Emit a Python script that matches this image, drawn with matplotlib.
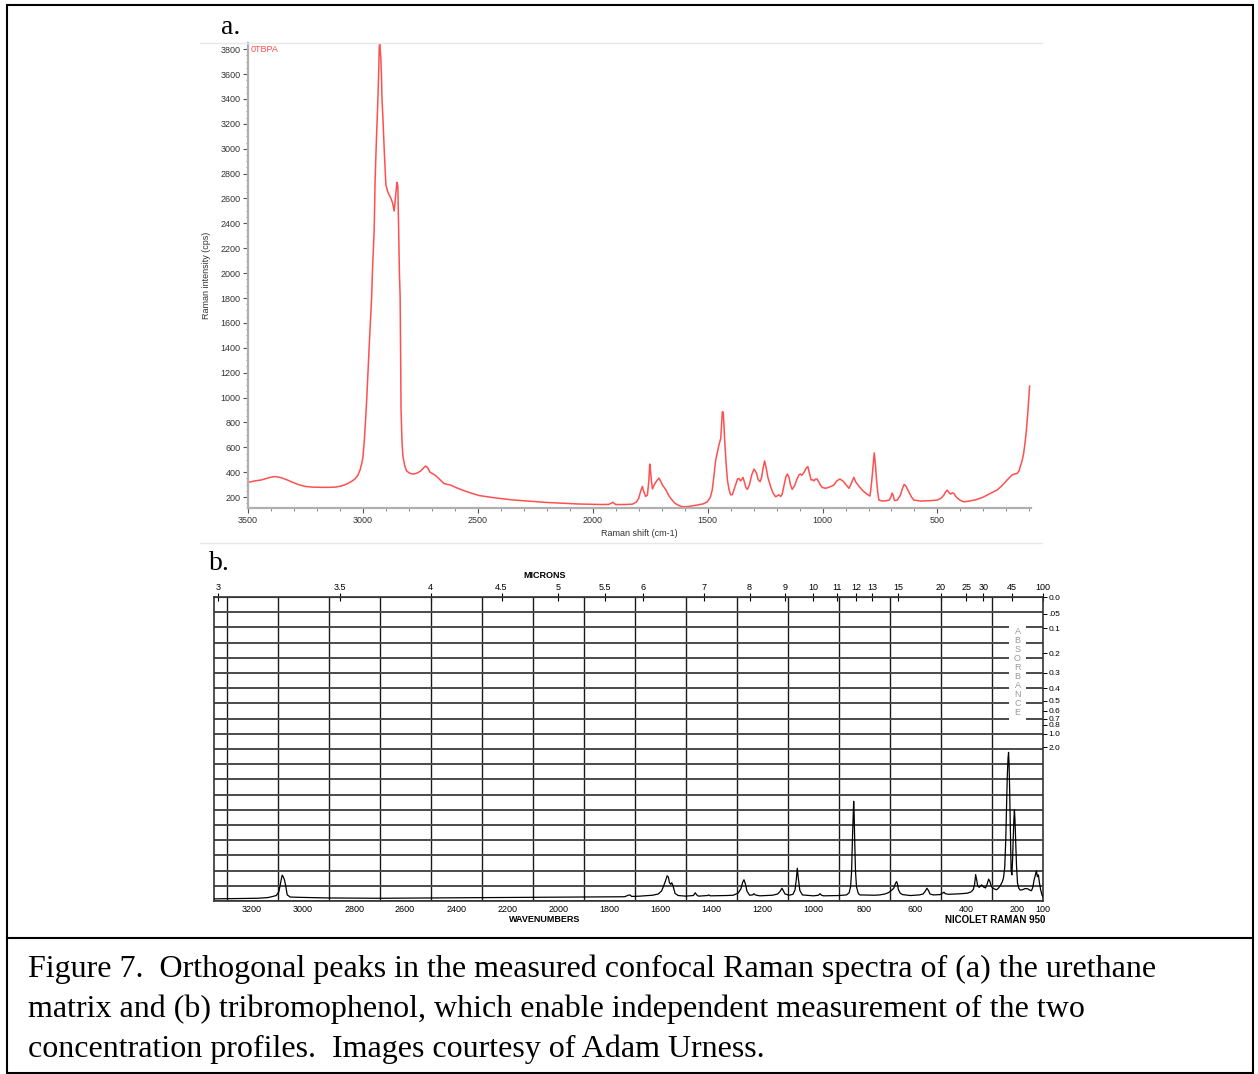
import numpy as np
import matplotlib.pyplot as plt
from matplotlib.lines import Line2D
from matplotlib.patches import Rectangle
from matplotlib.ticker import MultipleLocator

# (a) urethane matrix, Raman intensity (cps) vs Raman shift (cm-1)
top_wn = [3498, 3470, 3440, 3410, 3385, 3360, 3335, 3305, 3277, 3250, 3220, 3180, 3148, 3120,
          3095, 3070, 3050, 3035, 3022, 3012, 3005, 3000, 2994, 2989, 2983, 2978, 2973, 2967,
          2962, 2958, 2951, 2947, 2941, 2936, 2932, 2929, 2927, 2922, 2919, 2917, 2913, 2907,
          2900, 2893, 2886, 2878, 2871, 2864, 2857, 2852, 2848, 2845, 2841, 2838, 2836, 2834,
          2830, 2826, 2818, 2810, 2795, 2780, 2765, 2750, 2738, 2727, 2718, 2708, 2695, 2683,
          2665, 2648, 2630, 2617, 2600, 2567, 2530, 2494, 2450, 2400, 2349, 2300, 2250, 2204,
          2150, 2100, 2060, 2000, 1960, 1930, 1918, 1913, 1907, 1900, 1860, 1827, 1810, 1800,
          1791, 1784, 1778, 1770, 1762, 1756, 1752, 1748, 1745, 1740, 1733, 1722, 1712, 1705,
          1697, 1683, 1670, 1661, 1645, 1632, 1615, 1603, 1580, 1545, 1520, 1501, 1488, 1480,
          1472, 1465, 1451, 1443, 1439, 1436, 1432, 1429, 1426, 1420, 1414, 1407, 1400, 1392,
          1380, 1370, 1364, 1357, 1352, 1346, 1340, 1333, 1327, 1318, 1308, 1298, 1288, 1280,
          1272, 1265, 1258, 1252, 1246, 1238, 1226, 1215, 1204, 1197, 1190, 1183, 1176, 1168,
          1160, 1153, 1146, 1140, 1132, 1122, 1110, 1102, 1096, 1090, 1080, 1072, 1064, 1058,
          1050, 1044, 1038, 1030, 1024, 1016, 1009, 1002, 987, 970, 951, 938, 925, 912, 898,
          885, 875, 864, 855, 842, 830, 820, 808, 794, 790, 786, 780, 775, 770, 765, 760, 755,
          740, 726, 710, 703, 697, 692, 687, 675, 661, 652, 645, 638, 625, 613, 603, 574, 540,
          501, 485, 472, 465, 458, 450, 443, 435, 429, 418, 407, 395, 385, 360, 328, 300, 284,
          260, 241, 220, 197, 185, 176, 165, 154, 145, 140, 132, 125, 118, 113, 108, 103, 99]
top_cps = [318, 330, 338, 355, 365, 358, 342, 318, 298, 285, 280, 278, 278, 280,
           288, 305, 325, 345, 375, 420, 470, 520, 650, 800, 1000, 1200, 1400, 1620,
           1810, 2040, 2340, 2740, 3090, 3330, 3570, 3810, 3850, 3730, 3570, 3400, 3250, 2980,
           2710, 2660, 2630, 2600, 2565, 2500, 2630, 2730, 2700, 2390, 1990, 1810, 1400, 900,
           650, 530, 450, 410, 390, 385, 392, 408, 430, 450, 435, 400, 385, 372,
           340, 310, 300, 296, 280, 256, 232, 212, 200, 188, 177, 170, 163, 157,
           152, 148, 144, 142, 140, 141, 152, 158, 150, 140, 140, 143, 160, 190,
           250, 285, 245, 205, 216, 330, 465, 400, 335, 265, 296, 330, 352, 330,
           298, 262, 215, 190, 155, 138, 125, 122, 125, 136, 145, 162, 200, 256,
           380, 497, 618, 672, 800, 886, 880, 780, 658, 480, 337, 260, 218, 220,
           290, 345, 350, 330, 340, 358, 320, 275, 262, 300, 380, 425, 395, 340,
           323, 360, 440, 490, 440, 360, 283, 230, 202, 210, 218, 205, 220, 290,
           360, 385, 360, 300, 262, 290, 350, 380, 385, 375, 400, 430, 445, 400,
           337, 340, 330, 345, 345, 320, 296, 278, 270, 280, 296, 330, 345, 330, 300,
           270, 310, 358, 320, 288, 262, 243, 225, 208, 260, 330, 450, 555, 460, 337, 240, 176,
           168, 170, 175, 200, 232, 210, 172, 175, 216, 270, 302, 290, 243, 200, 176, 168, 170,
           176, 190, 216, 240, 256, 236, 224, 235, 230, 200, 181, 168, 162, 168, 181, 200, 216,
           238, 256, 290, 337, 360, 377, 385, 390, 410, 444, 490, 551, 650, 739, 850, 980, 1092]

# (b) tribromophenol, Nicolet Raman 950 trace (arbitrary units, full scale = 100)
bot_wn = [3349, 3250, 3180, 3140, 3123, 3105, 3095, 3088, 3082, 3078, 3073, 3068, 3062, 3050,
          3012, 2900, 2700, 2500, 2300, 2100, 1900, 1740, 1725, 1719, 1712, 1680, 1630, 1608,
          1595, 1588, 1580, 1573, 1568, 1564, 1559, 1555, 1550, 1542, 1530, 1500, 1470, 1463,
          1457, 1450, 1415, 1410, 1404, 1340, 1314, 1295, 1284, 1277, 1272, 1266, 1260, 1250,
          1238, 1233, 1228, 1210, 1160, 1140, 1130, 1123, 1118, 1111, 1095, 1080, 1072, 1067,
          1063, 1059, 1053, 1043, 1000, 980, 974, 968, 960, 900, 870, 860, 854, 850, 847, 844,
          842, 840, 838, 835, 831, 824, 818, 760, 740, 720, 707, 695, 685, 678, 674, 670, 667,
          660, 650, 620, 585, 570, 560, 555, 549, 543, 530, 504, 493, 488, 483, 470, 420, 395,
          382, 373, 368, 364, 360, 356, 350, 341, 333, 325, 318, 313, 308, 302, 292, 282, 275,
          268, 260, 255, 250, 246, 243, 240, 237, 235, 233, 231, 229, 227, 225, 222, 219, 217,
          214, 212, 210, 207, 204, 200, 195, 190, 180, 170, 160, 150, 145, 140, 135, 130, 126,
          122, 118, 114, 109, 104, 100]
bot_int = [0.7, 0.8, 0.9, 1.1, 1.4, 1.8, 3.0, 6.0, 8.5, 8.0, 7.0, 5.0, 2.0, 1.3,
           1.2, 1.0, 0.9, 1.0, 1.1, 1.2, 1.3, 1.4, 1.9, 2.0, 1.5, 1.6, 1.9, 2.3,
           3.3, 4.7, 6.5, 8.3, 7.8, 6.0, 5.5, 6.0, 5.0, 2.5, 1.8, 1.6, 1.8, 2.7,
           2.0, 1.6, 1.8, 2.0, 1.7, 1.8, 1.9, 2.6, 4.0, 6.2, 7.0, 5.5, 3.2, 1.9,
           2.0, 2.4, 2.0, 1.7, 1.9, 2.3, 3.2, 4.2, 3.4, 2.3, 1.9, 2.2, 3.6, 7.0,
           10.8, 7.5, 3.5, 2.0, 1.7, 1.9, 2.4, 1.9, 1.7, 1.8, 2.0, 2.7, 4.7, 10, 20, 28,
           32.8, 28, 20, 10, 4.7, 2.5, 2.0, 1.9, 2.0, 2.3, 2.7, 3.4, 4.2, 5.8, 6.4, 5.5, 3.8,
           2.6, 2.1, 1.8, 2.0, 2.3, 3.4, 4.2, 3.5, 2.3, 2.0, 2.1, 2.6, 2.9, 2.4, 2.2, 2.4, 2.6,
           3.0, 3.8, 5.5, 8.7, 7.0, 5.0, 4.5, 5.3, 4.6, 4.3, 5.8, 7.2, 6.4, 4.7, 4.0, 3.7, 4.2,
           5.0, 6.2, 7.5, 11, 20, 30, 41, 47, 48.9, 45, 38, 28, 16, 10, 8.6, 14, 20,
           27, 30, 27, 20, 12, 6, 4.2, 3.6, 3.7, 4.1, 4.0, 3.5, 3.4, 4.5, 6.9, 8.6, 9.9,
           8.0, 8.6, 6.0, 3.6, 2.0, 1.4]

raman_ticks = [3500, 3000, 2500, 2000, 1500, 1000, 500]
wn_ticks = [3200, 3000, 2800, 2600, 2400, 2200, 2000, 1800, 1600, 1400, 1200, 1000, 800, 600, 400, 200, 100]
micron_ticks = [3, 3.5, 4, 4.5, 5, 5.5, 6, 7, 8, 9, 10, 11, 12, 13, 15, 20, 25, 30, 45, 100]
micron_labels = ['3', '3.5', '4', '4.5', '5', '5.5', '6', '7', '8', '9', '10', '11', '12', '13',
                 '15', '20', '25', '30', '45', '100']
absorb_vals = [0.0, 0.05, 0.1, 0.2, 0.3, 0.4, 0.5, 0.6, 0.7, 0.8, 1.0, 2.0]
absorb_labels = ['0.0', '.05', '0.1', '0.2', '0.3', '0.4', '0.5', '0.6', '0.7', '0.8', '1.0', '2.0']

caption = ['Figure 7.  Orthogonal peaks in the measured confocal Raman spectra of (a) the urethane',
           'matrix and (b) tribromophenol, which enable independent measurement of the two',
           'concentration profiles.  Images courtesy of Adam Urness.']

W, H = 1258, 1074


def fx(px):
    return px / W


def fy(py):
    return 1 - py / H


plt.rcParams['font.family'] = ['Liberation Sans', 'DejaVu Sans']
fig = plt.figure(figsize=(W / 100, H / 100), dpi=100)

# ---- panel a ----
axa = fig.add_axes([fx(248), fy(508), fx(1031) - fx(248), fy(43) - fy(508)])
axa.plot(top_wn, top_cps, color='#ff4f4f', lw=1.1)
axa.set_xlim(3500, 93)
axa.set_ylim(112, 3850)
axa.set_xticks(raman_ticks)
axa.xaxis.set_minor_locator(MultipleLocator(100))
axa.yaxis.set_major_locator(MultipleLocator(200))
axa.yaxis.set_minor_locator(MultipleLocator(50))
for s in ['top', 'right']:
    axa.spines[s].set_visible(False)
for s in ['left', 'bottom']:
    axa.spines[s].set_color('#b0b0b0')
    axa.spines[s].set_linewidth(1.6)
axa.tick_params(which='major', length=3.5, width=0.8, color='#555555', labelsize=6.5,
                labelcolor='#333333', pad=2)
axa.tick_params(which='minor', length=1.8, width=0.6, color='#777777')
axa.set_xlabel('Raman shift (cm-1)', fontsize=6.5, color='#333333')
axa.xaxis.set_label_coords(0.5, -0.045)
axa.set_ylabel('Raman intensity (cps)', fontsize=6.5, color='#333333')
axa.yaxis.set_label_coords(-0.047, 0.5)
fig.text(fx(251), fy(50), '0TBPA', color='#ff4f4f', fontsize=6.5, va='center')

# ---- panel b ----
axb = fig.add_axes([fx(214), fy(901), fx(1043) - fx(214), fy(597) - fy(901)])
axb.plot(bot_wn, bot_int, color='black', lw=0.9, zorder=4)
axb.set_xlim(3349, 100)
axb.set_ylim(0, 100)
axb.set_xticks(wn_ticks)
axb.set_xticklabels([str(t) for t in wn_ticks])
axb.xaxis.set_minor_locator(MultipleLocator(100))
axb.set_yticks(np.arange(0, 101, 5))
axb.set_yticklabels([])
axb.tick_params(which='both', length=0, labelsize=6.5, pad=3)
axb.grid(which='minor', axis='x', color='#1a1a1a', lw=1.0)
axb.grid(which='major', axis='y', color='#4a4a4a', lw=1.4)
for s in axb.spines.values():
    s.set_color('#333333')
    s.set_linewidth(1.2)


def wn_to_um(w):
    w = np.asarray(w, dtype=float)
    with np.errstate(divide='ignore'):
        return 1e4 / w


secax = axb.secondary_xaxis('top', functions=(wn_to_um, wn_to_um))
secax.set_xticks(micron_ticks)
secax.set_xticklabels(micron_labels)
secax.tick_params(direction='inout', length=6, width=0.8, labelsize=6.5, pad=0.5)

# absorbance scale on the right (transmittance spans the upper half)
axr = axb.twinx()
axr.set_ylim(0, 1)
axr.set_yticks(0.5 + 0.5 * 10 ** (-np.array(absorb_vals)))
axr.set_yticklabels(absorb_labels)
axr.tick_params(length=3, width=0.7, labelsize=6, pad=1)
for s in axr.spines.values():
    s.set_visible(False)

axb.text(200, 75.3, '\n'.join('ABSORBANCE'), ha='center', va='center', fontsize=6.5,
         color='#999999', linespacing=1.0, zorder=3,
         bbox=dict(boxstyle='square,pad=0.6', fc='white', ec='none'))

fig.text(fx(545), fy(575), 'MICRONS', fontsize=6.5, weight='bold', ha='center', va='center')
fig.text(fx(545), fy(920), 'WAVENUMBERS', fontsize=6.5, weight='bold', ha='center', va='center')
fig.text(fx(995), fy(920), 'NICOLET RAMAN 950', fontsize=7, weight='bold', ha='center', va='center')

# panel letters and caption
fig.text(fx(221), fy(28), 'a.', fontsize=20, family='Liberation Serif', va='center')
fig.text(fx(209), fy(563), 'b.', fontsize=20, family='Liberation Serif', va='center')
for i, line in enumerate(caption):
    fig.text(fx(28), fy(969 + 40 * i), line, fontsize=23, family='Liberation Serif', va='center')

# outer frame, caption separator, faint image borders
fig.add_artist(Rectangle((fx(7), fy(1073)), fx(1253) - fx(7), fy(5) - fy(1073),
                         transform=fig.transFigure, fill=False, ec='black', lw=1.5))
fig.add_artist(Line2D([fx(7), fx(1253)], [fy(938), fy(938)], color='black', lw=1.5))
for yy in (43, 543):
    fig.add_artist(Line2D([fx(200), fx(1042)], [fy(yy), fy(yy)], color='#e8e8e8', lw=1.0))

fig.savefig('out.png', dpi=100)
